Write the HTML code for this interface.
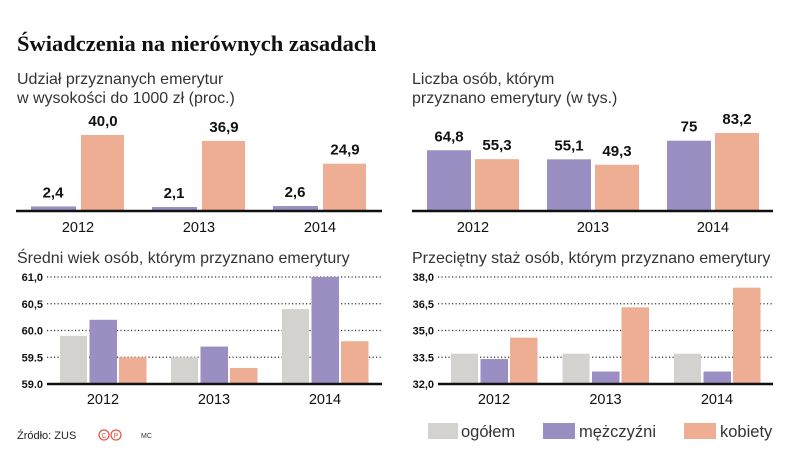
<!DOCTYPE html>
<html><head><meta charset="utf-8"><style>
body{margin:0;background:#fff;}
svg{display:block;font-family:"Liberation Sans",sans-serif;}
</style></head><body>
<svg id="c" width="805" height="460" viewBox="0 0 805 460">
<text x="17" y="51" font-family="Liberation Serif,serif" font-weight="bold" font-size="22.5" fill="#111">Świadczenia na nierównych zasadach</text>
<text x="17" y="84" font-size="16" fill="#333">Udział przyznanych emerytur</text>
<text x="17" y="103" font-size="16" fill="#333">w wysokości do 1000 zł (proc.)</text>
<text x="412" y="84" font-size="16" fill="#333">Liczba osób, którym</text>
<text x="412" y="103" font-size="16" fill="#333">przyznano emerytury (w tys.)</text>
<text x="17" y="263" font-size="16" fill="#333">Średni wiek osób, którym przyznano emerytury</text>
<text x="412" y="263" font-size="16" fill="#333">Przeciętny staż osób, którym przyznano emerytury</text>
<g id="g1"></g><g id="g2"></g><g id="g3"></g><g id="g4"></g>
<g>
<rect x="428" y="423" width="30" height="16" fill="#d3d2ce"/>
<text x="461" y="437" font-size="16.5" fill="#333">ogółem</text>
<rect x="543" y="423" width="32" height="16" fill="#9b8ec3"/>
<text x="579" y="437" font-size="16.5" fill="#333">mężczyźni</text>
<rect x="684" y="423" width="32" height="16" fill="#eeae94"/>
<text x="720" y="437" font-size="16.5" fill="#333">kobiety</text>
</g>
<text x="17" y="439" font-size="11" fill="#222">Źródło: ZUS</text>
<circle cx="104" cy="435" r="5" fill="none" stroke="#e25a4a" stroke-width="1.3"/>
<text x="104" y="438" font-size="7" fill="#e25a4a" text-anchor="middle">C</text>
<circle cx="116" cy="435" r="5" fill="none" stroke="#e25a4a" stroke-width="1.3"/>
<text x="116" y="438" font-size="7" fill="#e25a4a" text-anchor="middle">P</text>
<text x="141" y="438" font-size="7" fill="#333">MC</text>
</svg>
<script>
const years=["2012","2013","2014"];
const c1Men=[2.4,2.1,2.6];
const c1Women=[40.0,36.9,24.9];
const c1MenLabels=["2,4","2,1","2,6"];
const c1WomenLabels=["40,0","36,9","24,9"];
const c2Men=[64.8,55.1,75];
const c2Women=[55.3,49.3,83.2];
const c2MenLabels=["64,8","55,1","75"];
const c2WomenLabels=["55,3","49,3","83,2"];
const c3All=[59.9,59.5,60.4];
const c3Men=[60.2,59.7,61.0];
const c3Women=[59.5,59.3,59.8];
const c3Ticks=[59.0,59.5,60.0,60.5,61.0];
const c3TickLabels=["59.0","59.5","60.0","60,5","61,0"];
const c4All=[33.7,33.7,33.7];
const c4Men=[33.4,32.7,32.7];
const c4Women=[34.6,36.3,37.4];
const c4Ticks=[32.0,33.5,35.0,36.5,38.0];
const c4TickLabels=["32,0","33.5","35,0","36,5","38,0"];
const NS="http://www.w3.org/2000/svg";
const COL={all:"#d3d2ce",men:"#9b8ec3",women:"#eeae94"};
function mk(p,t,a){const e=document.createElementNS(NS,t);for(const k in a)e.setAttribute(k,a[k]);p.appendChild(e);return e;}
function bar(g,x,w,y0,y1,fill,name){const r=mk(g,'rect',{x:x,y:Math.min(y0,y1),width:w,height:Math.abs(y0-y1),fill:fill});

}
function label(g,x,y,txt,name,size,bold,anchor){const t=mk(g,'text',{x:x,y:y,'font-size':size,'text-anchor':anchor||'middle',fill:'#111','font-weight':bold?'bold':'normal'});t.textContent=txt;

}
function axis(g,x1,x2,y){const l=mk(g,'line',{x1:x1,x2:x2,y1:y,y2:y,stroke:'#111','stroke-width':2.5});

}
// chart 1
(function(){const g=document.getElementById('g1');const base=211,k=1.9,x0=31,gw=121,bw=45;
const y=v=>base-v*k;
years.forEach((yr,i)=>{const x=x0+i*gw;
bar(g,x,bw,base,y(c1Men[i]),COL.men,'bar-men-'+yr);
bar(g,x+50,43,base,y(c1Women[i]),COL.women,'bar-women-'+yr);
label(g,x+22,y(c1Men[i])-9,c1MenLabels[i],'value-men-'+yr,15,true);
label(g,x+72,y(c1Women[i])-9,c1WomenLabels[i],'value-women-'+yr,15,true);
label(g,x+47,232,yr,'year-label-'+yr,14.5,false);});
axis(g,16,382,base);})();
// chart 2
(function(){const g=document.getElementById('g2');const base=211,k=0.9375,x0=427,gw=120,bw=44;
const y=v=>base-v*k;
years.forEach((yr,i)=>{const x=x0+i*gw;
bar(g,x,bw,base,y(c2Men[i]),COL.men,'bar-men-'+yr);
bar(g,x+48,bw,base,y(c2Women[i]),COL.women,'bar-women-'+yr);
label(g,x+22,y(c2Men[i])-9,c2MenLabels[i],'value-men-'+yr,15,true);
label(g,x+70,y(c2Women[i])-9,c2WomenLabels[i],'value-women-'+yr,15,true);
label(g,x+46,232,yr,'year-label-'+yr,14.5,false);});
axis(g,412,773,base);})();
function grouped(id,all,men,women,ticks,tlabels,x0,gw,axX1,axX2,labX){
const g=document.getElementById(id);const top=277,base=384;const mn=ticks[0],mx=ticks[ticks.length-1];
const y=v=>base-(v-mn)/(mx-mn)*(base-top);
ticks.forEach((t,j)=>{if(j>0){const l=mk(g,'line',{x1:axX1,x2:axX2,y1:y(t),y2:y(t),stroke:'#333','stroke-width':1.2,'stroke-dasharray':'1.2 2.3'});

}
label(g,labX,y(t)+4,tlabels[j],'y-tick-label',11,true,'end');});
years.forEach((yr,i)=>{const x=x0+i*gw;
bar(g,x,27,base,y(all[i]),COL.all,'bar-all-'+yr);
bar(g,x+29.5,27.5,base,y(men[i]),COL.men,'bar-men-'+yr);
bar(g,x+59,27.5,base,y(women[i]),COL.women,'bar-women-'+yr);
label(g,x+43,404,yr,'year-label-'+yr,14.5,false);});
axis(g,axX1,axX2,base);}
grouped('g3',c3All,c3Men,c3Women,c3Ticks,c3TickLabels,60,111,47,382,43);
grouped('g4',c4All,c4Men,c4Women,c4Ticks,c4TickLabels,451,111.5,438,773,434);
</script>
</body></html>
